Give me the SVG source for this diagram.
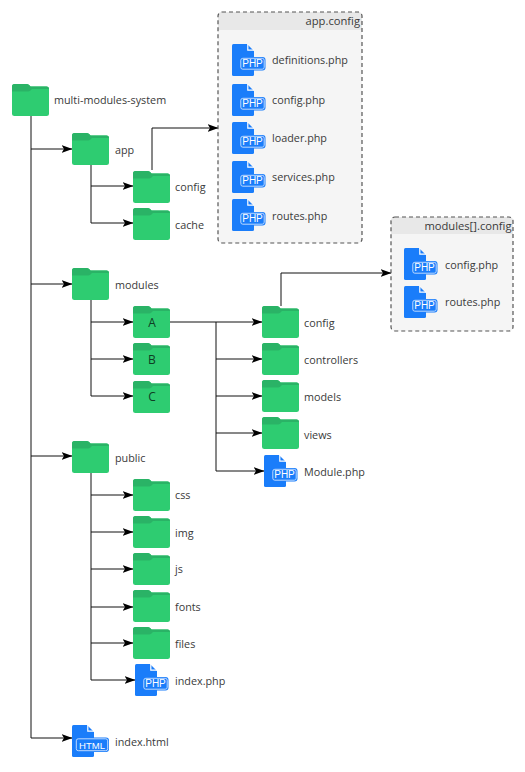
<svg xmlns="http://www.w3.org/2000/svg" width="525" height="772" viewBox="0 0 525 772">
<style>
text{font-family:"Open Sans","Liberation Sans",sans-serif;font-size:10.8px;fill:#3a3a3a}
.c{fill:none;stroke:#111;stroke-width:1}
.box{fill:#f5f5f5;stroke:none}
.hd{fill:#e8e8e8}
.bd{fill:none;stroke:#555;stroke-width:1.2;stroke-dasharray:4 3}
.m{text-anchor:middle;font-size:12px;fill:#0f3d24}
.e{text-anchor:end;font-size:11.2px}
.b{font-family:"Liberation Sans",sans-serif;font-size:10px;fill:#fff;text-anchor:middle}
</style>
<defs>
<marker id="a" viewBox="0 0 11 9" refX="10.500" refY="4.500" markerWidth="11" markerHeight="9" markerUnits="userSpaceOnUse" orient="auto"><path d="M0 0.500L11 4.500L0 8.500L2.500 4.500Z" fill="#000"/></marker>
<g id="folder">
<path d="M0 2.500Q0 0 2.500 0H15Q17 0 18.500 2.500H34.500Q37 2.500 37 5V29.500Q37 32 34.500 32H2.500Q0 32 0 29.500Z" fill="#2ecc71"/>
<path d="M0 7.500V2.500Q0 0 2.500 0H15Q17 0 18.500 2.500H34.500Q37 2.500 37 5H20Q18 7.500 16 7.500Z" fill="#2ab366"/>
</g>
<g id="php">
<path d="M1.500 0H15L22 7V30.500Q22 32 20.500 32H1.500Q0 32 0 30.500V1.500Q0 0 1.500 0Z" fill="#1a7dfa"/>
<path d="M15.800 0V6.200H22" fill="none" stroke="#fff" stroke-width="1.200"/>
<rect x="7.500" y="13" width="26" height="13.500" rx="3" fill="#1a7dfa"/>
<rect x="8.800" y="14.300" width="23.400" height="10.900" rx="2" fill="none" stroke="#cfe3ff" stroke-width="0.900"/>
<text x="20.500" y="23.400" class="b">PHP</text>
</g>
<g id="html">
<path d="M1.500 0H15L22 7V30.500Q22 32 20.500 32H1.500Q0 32 0 30.500V1.500Q0 0 1.500 0Z" fill="#1a7dfa"/>
<path d="M15.800 0V6.200H22" fill="none" stroke="#fff" stroke-width="1.200"/>
<rect x="3" y="12.500" width="34" height="14.500" rx="3" fill="#1a7dfa"/>
<rect x="4.300" y="13.800" width="31.400" height="11.900" rx="2" fill="none" stroke="#cfe3ff" stroke-width="0.900"/>
<text x="20" y="23.500" class="b" style="font-size:9.500px">HTML</text>
</g>
</defs>
<rect width="525" height="772" fill="#fff"/>
<g id="connectors">
<path class="c" d="M31 116V738H72" marker-end="url(#a)"/>
<path class="c" d="M31 149H72" marker-end="url(#a)"/>
<path class="c" d="M31 284H72" marker-end="url(#a)"/>
<path class="c" d="M31 456H72" marker-end="url(#a)"/>
<path class="c" d="M91 165V223H133" marker-end="url(#a)"/>
<path class="c" d="M91 186H133" marker-end="url(#a)"/>
<path class="c" d="M152 170V128H218" marker-end="url(#a)"/>
<path class="c" d="M91 300V396H133" marker-end="url(#a)"/>
<path class="c" d="M91 322H133" marker-end="url(#a)"/>
<path class="c" d="M91 359H133" marker-end="url(#a)"/>
<path class="c" d="M170 322H262" marker-end="url(#a)"/>
<path class="c" d="M216 322V471H264" marker-end="url(#a)"/>
<path class="c" d="M216 359H262" marker-end="url(#a)"/>
<path class="c" d="M216 396H262" marker-end="url(#a)"/>
<path class="c" d="M216 433H262" marker-end="url(#a)"/>
<path class="c" d="M281 306V273H391" marker-end="url(#a)"/>
<path class="c" d="M91 473V680H135" marker-end="url(#a)"/>
<path class="c" d="M91 495H133" marker-end="url(#a)"/>
<path class="c" d="M91 532H133" marker-end="url(#a)"/>
<path class="c" d="M91 569H133" marker-end="url(#a)"/>
<path class="c" d="M91 607H133" marker-end="url(#a)"/>
<path class="c" d="M91 643H133" marker-end="url(#a)"/>
</g>
<g id="app-config">
<rect class="box" x="218" y="12" width="144" height="231" rx="4"/>
<path class="hd" d="M218 30V16Q218 12 222 12H358Q362 12 362 16V30Z"/>
<rect class="bd" x="218" y="12" width="144" height="231" rx="4"/>
<text x="360" y="25" class="e">app.config</text>
</g>
<g id="modules-config">
<rect class="box" x="391" y="217" width="122" height="114" rx="4"/>
<path class="hd" d="M391 234V221Q391 217 395 217H509Q513 217 513 221V234Z"/>
<rect class="bd" x="391" y="217" width="122" height="114" rx="4"/>
<text x="511.500" y="230" class="e">modules[].config</text>
</g>
<g id="n-root"><use href="#folder" x="12" y="84"/><text x="54" y="104">multi-modules-system</text></g>
<g id="n-app"><use href="#folder" x="72" y="133"/><text x="115" y="154">app</text></g>
<g id="n-app-config"><use href="#folder" x="133" y="171"/><text x="175" y="191">config</text></g>
<g id="n-cache"><use href="#folder" x="133" y="208"/><text x="175" y="229">cache</text></g>
<g id="n-definitions"><use href="#php" x="232" y="44"/><text x="272" y="64">definitions.php</text></g>
<g id="n-config-php"><use href="#php" x="232" y="84"/><text x="272" y="104">config.php</text></g>
<g id="n-loader"><use href="#php" x="232" y="122"/><text x="272" y="142">loader.php</text></g>
<g id="n-services"><use href="#php" x="232" y="161"/><text x="272" y="181">services.php</text></g>
<g id="n-routes"><use href="#php" x="232" y="199"/><text x="272" y="220">routes.php</text></g>
<g id="n-m-config-php"><use href="#php" x="404" y="248"/><text x="445" y="269">config.php</text></g>
<g id="n-m-routes-php"><use href="#php" x="404" y="286"/><text x="445" y="306">routes.php</text></g>
<g id="n-modules"><use href="#folder" x="72" y="268"/><text x="115" y="289">modules</text></g>
<g id="n-a"><use href="#folder" x="133" y="306"/><text x="152" y="327" class="m">A</text></g>
<g id="n-b"><use href="#folder" x="133" y="343"/><text x="152" y="364" class="m">B</text></g>
<g id="n-c"><use href="#folder" x="133" y="381"/><text x="152" y="401" class="m">C</text></g>
<g id="n-mod-config"><use href="#folder" x="262" y="306"/><text x="304" y="327">config</text></g>
<g id="n-controllers"><use href="#folder" x="262" y="343"/><text x="304" y="364">controllers</text></g>
<g id="n-models"><use href="#folder" x="262" y="380"/><text x="304" y="401">models</text></g>
<g id="n-views"><use href="#folder" x="262" y="417"/><text x="304" y="439">views</text></g>
<g id="n-module-php"><use href="#php" x="264" y="455"/><text x="304" y="476">Module.php</text></g>
<g id="n-public"><use href="#folder" x="72" y="441"/><text x="115" y="462">public</text></g>
<g id="n-css"><use href="#folder" x="133" y="479"/><text x="175" y="499">css</text></g>
<g id="n-img"><use href="#folder" x="133" y="516"/><text x="175" y="537">img</text></g>
<g id="n-js"><use href="#folder" x="133" y="553"/><text x="175" y="573">js</text></g>
<g id="n-fonts"><use href="#folder" x="133" y="590"/><text x="175" y="611">fonts</text></g>
<g id="n-files"><use href="#folder" x="133" y="627"/><text x="175" y="648">files</text></g>
<g id="n-index-php"><use href="#php" x="135" y="664"/><text x="175" y="685">index.php</text></g>
<g id="n-index-html"><use href="#html" x="72" y="725"/><text x="115" y="746">index.html</text></g>
</svg>
